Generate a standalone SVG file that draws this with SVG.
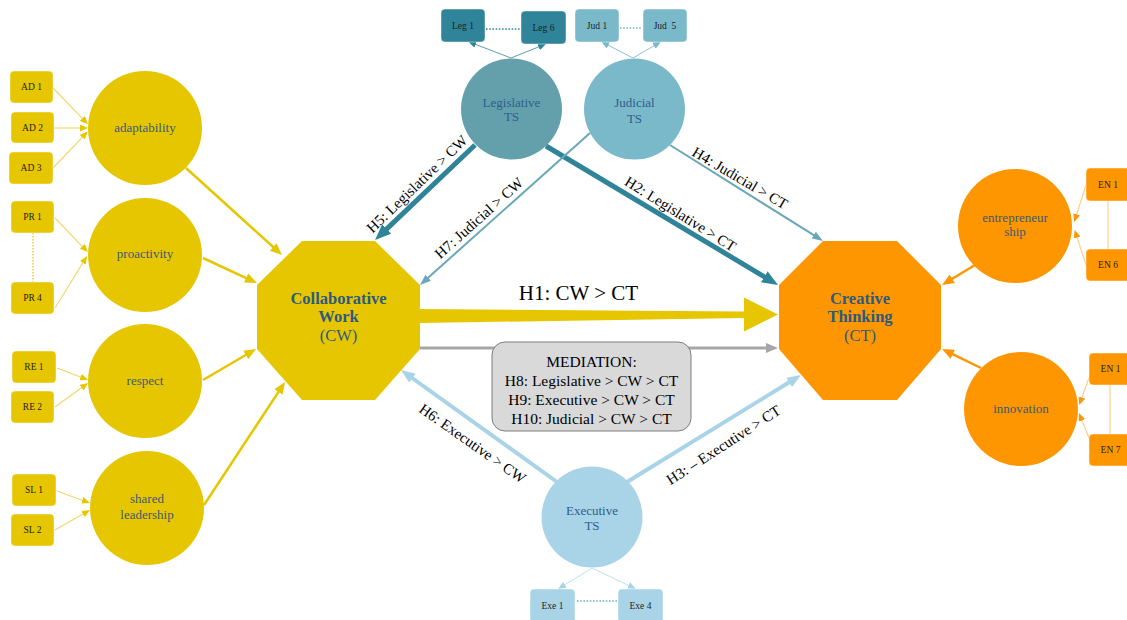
<svg xmlns="http://www.w3.org/2000/svg" width="1127" height="620" viewBox="0 0 1127 620">
  <style>
    .ind { font-size: 9.5px; fill: #1e1e1e; text-anchor: middle; }
    .lat { font-size: 13px; fill: #3d5a73; text-anchor: middle; }
    .ts { font-size: 13px; fill: #2e5e8c; text-anchor: middle; }
    .oct { font-size: 16.5px; fill: #2e5a80; text-anchor: middle; }
    .bold { font-weight: bold; }
    .hyp { font-size: 15px; fill: #000; text-anchor: middle; }
    .med { font-size: 15.5px; fill: #000; text-anchor: middle; }
    .yel { fill: #e6c600; }
    .org { fill: #fd9600; }
    .box { stroke: #ffffff; stroke-opacity: 0.45; stroke-width: 1; }
  </style>
  <defs>
    <marker id="hYel" markerUnits="userSpaceOnUse" markerWidth="12" markerHeight="10" refX="2" refY="5" orient="auto" viewBox="0 0 12 10"><path d="M0,0 L12,5 L0,10 z" fill="#e6c600"/></marker>
    <marker id="hYelS" markerUnits="userSpaceOnUse" markerWidth="8" markerHeight="7" refX="2" refY="3.5" orient="auto" viewBox="0 0 8 7"><path d="M0,0 L8,3.5 L0,7 z" fill="#e6c600"/></marker>
    <marker id="hOrg" markerUnits="userSpaceOnUse" markerWidth="12" markerHeight="10" refX="2" refY="5" orient="auto" viewBox="0 0 12 10"><path d="M0,0 L12,5 L0,10 z" fill="#fd9600"/></marker>
    <marker id="hOrgS" markerUnits="userSpaceOnUse" markerWidth="8" markerHeight="7" refX="2" refY="3.5" orient="auto" viewBox="0 0 8 7"><path d="M0,0 L8,3.5 L0,7 z" fill="#fd9600"/></marker>
    <marker id="hLeg" markerUnits="userSpaceOnUse" markerWidth="16" markerHeight="13" refX="2" refY="6.5" orient="auto" viewBox="0 0 16 13"><path d="M0,0 L16,6.5 L0,13 z" fill="#2f8499"/></marker>
    <marker id="hJud" markerUnits="userSpaceOnUse" markerWidth="11" markerHeight="8" refX="2" refY="4" orient="auto" viewBox="0 0 11 8"><path d="M0,0 L11,4 L0,8 z" fill="#6aa8b8"/></marker>
    <marker id="hExe" markerUnits="userSpaceOnUse" markerWidth="14" markerHeight="11" refX="2" refY="5.5" orient="auto" viewBox="0 0 14 11"><path d="M0,0 L14,5.5 L0,11 z" fill="#a9d3e6"/></marker>
    <marker id="hGray" markerUnits="userSpaceOnUse" markerWidth="12" markerHeight="10" refX="2" refY="5" orient="auto" viewBox="0 0 12 10"><path d="M0,0 L12,5 L0,10 z" fill="#a6a6a6"/></marker>
    <marker id="hLegS" markerUnits="userSpaceOnUse" markerWidth="8" markerHeight="7" refX="2" refY="3.5" orient="auto" viewBox="0 0 8 7"><path d="M0,0 L8,3.5 L0,7 z" fill="#2f8499"/></marker>
    <marker id="hJudS" markerUnits="userSpaceOnUse" markerWidth="8" markerHeight="7" refX="2" refY="3.5" orient="auto" viewBox="0 0 8 7"><path d="M0,0 L8,3.5 L0,7 z" fill="#7ab9ca"/></marker>
    <marker id="hExeS" markerUnits="userSpaceOnUse" markerWidth="8" markerHeight="7" refX="2" refY="3.5" orient="auto" viewBox="0 0 8 7"><path d="M0,0 L8,3.5 L0,7 z" fill="#a9d3e6"/></marker>
  </defs>

  <!-- connectors -->
  <g id="connectors" fill="none">
    <!-- indicator links -->
    <g stroke="#f0d767" stroke-width="1.1" marker-end="url(#hYelS)">
      <line x1="53" y1="88" x2="83.8" y2="119.9"/>
      <line x1="54" y1="128" x2="82" y2="128"/>
      <line x1="53" y1="168" x2="83.6" y2="135.8"/>
      <line x1="55" y1="218" x2="83.7" y2="247.8"/>
      <line x1="55" y1="308" x2="83.9" y2="261.1"/>
      <line x1="57" y1="368" x2="82.4" y2="377.8"/>
      <line x1="55" y1="407" x2="83.2" y2="386.5"/>
      <line x1="57" y1="491" x2="84.3" y2="501"/>
      <line x1="55" y1="530" x2="84.8" y2="513"/>
    </g>
    <line x1="33" y1="233" x2="33" y2="282" stroke="#e6c600" stroke-width="1.2" stroke-dasharray="1.5 1.5"/>
    <g stroke="#ffc987" stroke-width="1.1" marker-end="url(#hOrgS)">
      <line x1="1086" y1="185" x2="1076" y2="216.3"/>
      <line x1="1086" y1="265" x2="1076.5" y2="235.6"/>
      <line x1="1089" y1="378" x2="1081.2" y2="399.4"/>
      <line x1="1089" y1="438" x2="1081.2" y2="418.6"/>
    </g>
    <line x1="1108" y1="201" x2="1108" y2="249" stroke="#ffc987" stroke-width="1.1"/>
    <line x1="1110" y1="385" x2="1110" y2="434" stroke="#ffc987" stroke-width="1.1"/>
    <g stroke="#5e9eab" stroke-width="1" marker-end="url(#hLegS)">
      <line x1="511" y1="58" x2="473.8" y2="43.7"/>
      <line x1="511" y1="58" x2="540.4" y2="46.2"/>
    </g>
    <line x1="486" y1="29" x2="520" y2="29" stroke="#2f8499" stroke-width="1.6" stroke-dasharray="1.6 1.6"/>
    <g stroke="#8cc3d2" stroke-width="1" marker-end="url(#hJudS)">
      <line x1="633" y1="58" x2="606.6" y2="44.4"/>
      <line x1="633" y1="58" x2="655.7" y2="44.7"/>
    </g>
    <line x1="620" y1="28" x2="642" y2="28" stroke="#7ab9ca" stroke-width="1.6" stroke-dasharray="1.6 1.6"/>
    <g stroke="#bfdfee" stroke-width="1" marker-end="url(#hExeS)">
      <line x1="592" y1="568" x2="563.1" y2="585.9"/>
      <line x1="592" y1="568" x2="630.4" y2="586.3"/>
    </g>
    <line x1="577" y1="601" x2="617" y2="601" stroke="#6db3ca" stroke-width="1.6" stroke-dasharray="1.6 1.6"/>

    <!-- dimension to construct -->
    <g stroke="#e6c600" stroke-width="2.5" marker-end="url(#hYel)">
      <line x1="186" y1="168" x2="274.6" y2="248.3"/>
      <line x1="203" y1="258" x2="247.9" y2="278.8"/>
      <line x1="203" y1="380" x2="247.4" y2="354"/>
      <line x1="204" y1="505" x2="279.5" y2="390.4"/>
    </g>
    <g stroke="#fd9600" stroke-width="2.5" marker-end="url(#hOrg)">
      <line x1="975" y1="265" x2="950.6" y2="279.8"/>
      <line x1="981" y1="368" x2="951" y2="353.4"/>
    </g>

    <!-- hypotheses -->
    <path d="M420,309 L744,311.5 L744,297.5 L778,314.5 L744,331.5 L744,318 L420,323 z" fill="#e6c600"/>
    <line x1="420" y1="348" x2="768" y2="348" stroke="#a6a6a6" stroke-width="3" marker-end="url(#hGray)"/>
    <g stroke="#2f8499" stroke-width="5" marker-end="url(#hLeg)">
      <line x1="475" y1="145" x2="385.2" y2="230.4"/>
      <line x1="546" y1="146" x2="766" y2="277.8"/>
    </g>
    <g stroke="#6aa8b8" stroke-width="2" marker-end="url(#hJud)">
      <line x1="590" y1="133" x2="426.7" y2="279"/>
      <line x1="670" y1="145" x2="815.4" y2="236.2"/>
    </g>
    <g stroke="#a9d3e6" stroke-width="4" marker-end="url(#hExe)">
      <line x1="557" y1="482" x2="410.7" y2="377"/>
      <line x1="627" y1="482" x2="790.8" y2="381.3"/>
    </g>

    <text font-family="Liberation Serif" class="hyp" transform="translate(417,184) rotate(-43.8)" y="5">H5: Legislative &gt; CW</text>
    <text font-family="Liberation Serif" class="hyp" transform="translate(479,218) rotate(-41.9)" y="5">H7: Judicial &gt; CW</text>
    <text font-family="Liberation Serif" class="hyp" transform="translate(680.5,214) rotate(32)" y="5">H2: Legislative &gt; CT</text>
    <text font-family="Liberation Serif" class="hyp" transform="translate(740,178) rotate(30.5)" y="5">H4: Judicial &gt; CT</text>
    <text font-family="Liberation Serif" class="hyp" transform="translate(472.5,443.5) rotate(35.2)" y="5">H6: Executive &gt; CW</text>
    <text font-family="Liberation Serif" class="hyp" transform="translate(723.5,445) rotate(-33)" y="5">H3: – Executive &gt; CT</text>
    <text font-family="Liberation Serif" x="578.5" y="300" font-size="21" text-anchor="middle" fill="#000">H1: CW &gt; CT</text>
  </g>

  <!-- mediation note -->
  <g id="mediation">
    <rect x="492" y="342" width="199" height="89" rx="13" fill="#d9d9d9" stroke="#7f7f7f" stroke-width="1"/>
    <text font-family="Liberation Serif" class="med" x="591.5" y="367">MEDIATION:</text>
    <text font-family="Liberation Serif" class="med" x="591.5" y="386">H8: Legislative &gt; CW &gt; CT</text>
    <text font-family="Liberation Serif" class="med" x="591.5" y="405">H9: Executive &gt; CW &gt; CT</text>
    <text font-family="Liberation Serif" class="med" x="591.5" y="424">H10: Judicial &gt; CW &gt; CT</text>
  </g>

  <!-- constructs -->
  <g id="cw">
    <polygon class="yel" points="302,241 375,241 420,285 420,349 375,400 302,400 257,349 257,285"/>
    <text font-family="Liberation Serif" class="oct bold" x="338.5" y="304">Collaborative</text>
    <text font-family="Liberation Serif" class="oct bold" x="338.5" y="322">Work</text>
    <text font-family="Liberation Serif" class="oct" x="338.5" y="341">(CW)</text>
  </g>
  <g id="ct">
    <polygon class="org" points="823,241 897,241 941,285 941,349 897,400 823,400 779,349 779,285"/>
    <text font-family="Liberation Serif" class="oct bold" x="860" y="304">Creative</text>
    <text font-family="Liberation Serif" class="oct bold" x="860" y="322">Thinking</text>
    <text font-family="Liberation Serif" class="oct" x="860" y="341">(CT)</text>
  </g>

  <!-- dimensions of collaborative work -->
  <g id="adaptability">
    <circle class="yel" cx="145" cy="128" r="57"/>
    <text font-family="Liberation Serif" class="lat" x="145" y="132">adaptability</text>
  </g>
  <g id="proactivity">
    <circle class="yel" cx="145" cy="255" r="57"/>
    <text font-family="Liberation Serif" class="lat" x="145" y="258">proactivity</text>
  </g>
  <g id="respect">
    <circle class="yel" cx="145" cy="381" r="57"/>
    <text font-family="Liberation Serif" class="lat" x="145" y="385">respect</text>
  </g>
  <g id="shared-leadership">
    <circle class="yel" cx="147" cy="508" r="57"/>
    <text font-family="Liberation Serif" class="lat" x="147" y="503">shared</text>
    <text font-family="Liberation Serif" class="lat" x="147" y="519">leadership</text>
  </g>

  <!-- dimensions of creative thinking -->
  <g id="entrepreneurship">
    <circle class="org" cx="1015" cy="226" r="57"/>
    <text font-family="Liberation Serif" class="lat" x="1015" y="222" font-size="12">entrepreneur</text>
    <text font-family="Liberation Serif" class="lat" x="1015" y="236" font-size="12">ship</text>
  </g>
  <g id="innovation">
    <circle class="org" cx="1021" cy="409" r="57"/>
    <text font-family="Liberation Serif" class="lat" x="1021" y="413">innovation</text>
  </g>

  <!-- thinking styles -->
  <g id="legislative">
    <circle cx="511.5" cy="109" r="50.5" fill="#64a0ac"/>
    <text font-family="Liberation Serif" class="ts" x="511.5" y="107">Legislative</text>
    <text font-family="Liberation Serif" class="ts" x="511.5" y="121">TS</text>
  </g>
  <g id="judicial">
    <circle cx="634.5" cy="109" r="50.5" fill="#7ab9ca"/>
    <text font-family="Liberation Serif" class="ts" x="634.5" y="107">Judicial</text>
    <text font-family="Liberation Serif" class="ts" x="634.5" y="123">TS</text>
  </g>
  <g id="executive">
    <circle cx="592" cy="517" r="50.5" fill="#a9d3e6"/>
    <text font-family="Liberation Serif" class="ts" x="592" y="515">Executive</text>
    <text font-family="Liberation Serif" class="ts" x="592" y="530">TS</text>
  </g>

  <!-- indicators -->
  <g id="ad1"><rect class="yel box" x="10" y="71" width="43" height="32" rx="4"/><text font-family="Liberation Serif" class="ind" x="31.5" y="90">AD 1</text></g>
  <g id="ad2"><rect class="yel box" x="11" y="112" width="43" height="31" rx="4"/><text font-family="Liberation Serif" class="ind" x="32.5" y="131">AD 2</text></g>
  <g id="ad3"><rect class="yel box" x="9" y="152" width="44" height="32" rx="4"/><text font-family="Liberation Serif" class="ind" x="31" y="171">AD 3</text></g>
  <g id="pr1"><rect class="yel box" x="11" y="201" width="43" height="32" rx="4"/><text font-family="Liberation Serif" class="ind" x="32.5" y="220">PR 1</text></g>
  <g id="pr4"><rect class="yel box" x="11" y="282" width="43" height="32" rx="4"/><text font-family="Liberation Serif" class="ind" x="32.5" y="301">PR 4</text></g>
  <g id="re1"><rect class="yel box" x="12" y="351" width="44" height="32" rx="4"/><text font-family="Liberation Serif" class="ind" x="34" y="370">RE 1</text></g>
  <g id="re2"><rect class="yel box" x="11" y="391" width="43" height="32" rx="4"/><text font-family="Liberation Serif" class="ind" x="32.5" y="410">RE 2</text></g>
  <g id="sl1"><rect class="yel box" x="12" y="474" width="44" height="32" rx="4"/><text font-family="Liberation Serif" class="ind" x="34" y="493">SL 1</text></g>
  <g id="sl2"><rect class="yel box" x="11" y="514" width="43" height="32" rx="4"/><text font-family="Liberation Serif" class="ind" x="32.5" y="533">SL 2</text></g>

  <g id="leg1"><rect class="box" x="441" y="9" width="44" height="33" rx="4" fill="#2f8499"/><text font-family="Liberation Serif" class="ind" x="463" y="29">Leg 1</text></g>
  <g id="leg6"><rect class="box" x="521" y="11" width="45" height="33" rx="4" fill="#2f8499"/><text font-family="Liberation Serif" class="ind" x="543.5" y="31">Leg 6</text></g>
  <g id="jud1"><rect class="box" x="575" y="9" width="44" height="33" rx="4" fill="#7ab9ca"/><text font-family="Liberation Serif" class="ind" x="597" y="29">Jud 1</text></g>
  <g id="jud5"><rect class="box" x="643" y="9" width="44" height="33" rx="4" fill="#7ab9ca"/><text font-family="Liberation Serif" class="ind" x="665" y="29" xml:space="preserve">Jud  5</text></g>

  <g id="exe1"><rect class="box" x="530" y="589" width="45" height="34" rx="4" fill="#a9d3e6"/><text font-family="Liberation Serif" class="ind" x="552.5" y="609">Exe 1</text></g>
  <g id="exe4"><rect class="box" x="618" y="589" width="45" height="34" rx="4" fill="#a9d3e6"/><text font-family="Liberation Serif" class="ind" x="640.5" y="609">Exe 4</text></g>

  <g id="en1a"><rect class="org box" x="1086" y="168" width="45" height="33" rx="4"/><text font-family="Liberation Serif" class="ind" x="1108" y="188">EN 1</text></g>
  <g id="en6"><rect class="org box" x="1086" y="249" width="45" height="32" rx="4"/><text font-family="Liberation Serif" class="ind" x="1108" y="268">EN 6</text></g>
  <g id="en1b"><rect class="org box" x="1089" y="353" width="42" height="32" rx="4"/><text font-family="Liberation Serif" class="ind" x="1110.5" y="372">EN 1</text></g>
  <g id="en7"><rect class="org box" x="1089" y="434" width="42" height="32" rx="4"/><text font-family="Liberation Serif" class="ind" x="1110.5" y="453">EN 7</text></g>
</svg>
